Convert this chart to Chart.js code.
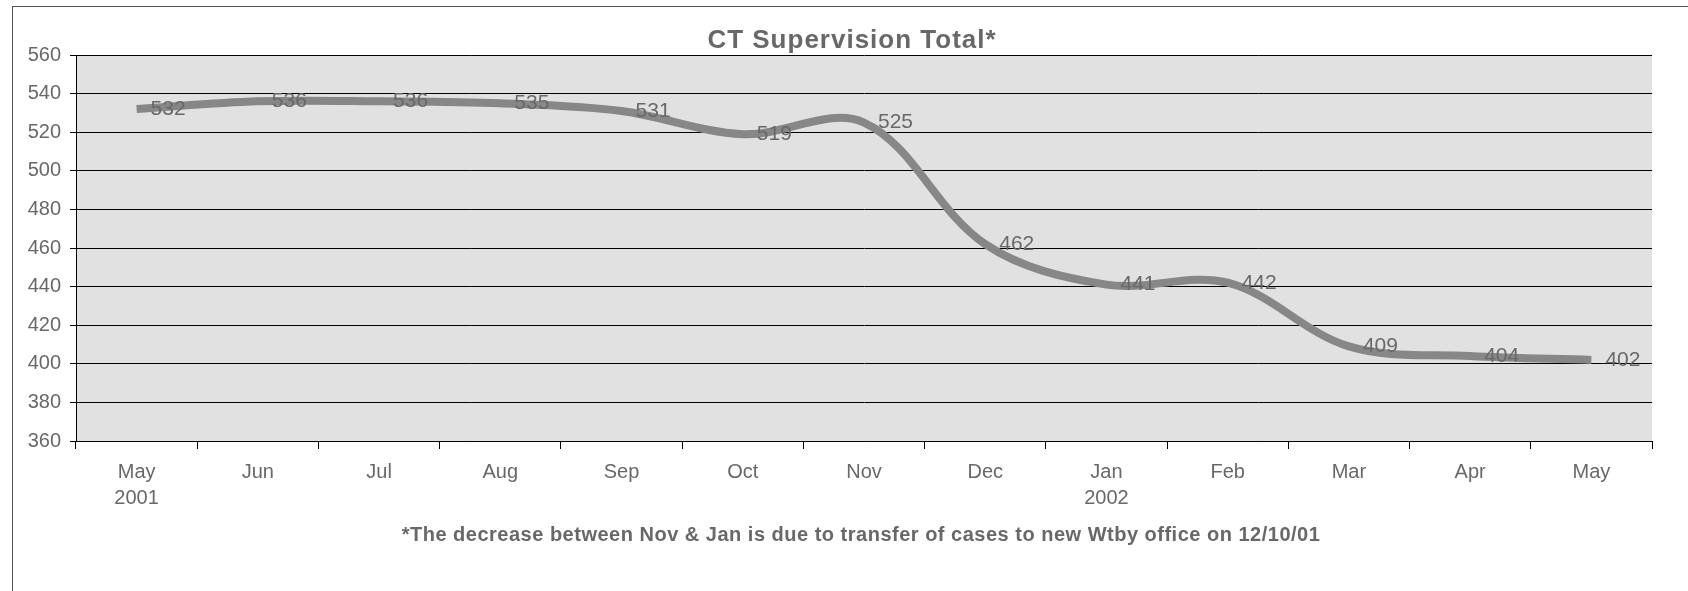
<!DOCTYPE html>
<html>
<head>
<meta charset="utf-8">
<title>CT Supervision Total</title>
<script src="https://cdn.jsdelivr.net/npm/chart.js@4.4.1/dist/chart.umd.min.js"></script>
<style>
  html, body { margin: 0; padding: 0; background: #fff; }
  #wrap { width: 1688px; height: 591px; position: relative; }
</style>
</head>
<body>
<div id="wrap"><canvas id="ct-chart"></canvas></div>
<script>
// ---- data ----
const months = [
  ['May', '2001'], 'Jun', 'Jul', 'Aug', 'Sep', 'Oct', 'Nov', 'Dec',
  ['Jan', '2002'], 'Feb', 'Mar', 'Apr', 'May'
];
const totals = [532, 536, 536, 535, 531, 519, 525, 462, 441, 442, 409, 404, 402];
const yTicks = { min: 360, max: 560, step: 20 };

const chartTitle = 'CT Supervision Total*';
const footnote = '*The decrease between Nov & Jan is due to transfer of cases to new Wtby office on 12/10/01';

const FONT = '"Liberation Sans", Arial, sans-serif';
const TEXT_GRAY = '#686868';

// plot background + outer frame
const framePlugin = {
  id: 'frame',
  beforeDraw(chart) {
    const { ctx, chartArea: a } = chart;
    ctx.save();
    ctx.fillStyle = '#fff';
    ctx.fillRect(0, 0, chart.width, chart.height);
    ctx.fillStyle = '#e1e1e1';
    ctx.fillRect(a.left, a.top, a.right - a.left, a.bottom - a.top);
    ctx.strokeStyle = '#555';
    ctx.lineWidth = 1;
    ctx.strokeRect(12.5, 6.5, chart.width + 20, chart.height + 20);
    ctx.restore();
  }
};

// value labels to the right of each point, title and footnote
const textPlugin = {
  id: 'texts',
  afterDatasetsDraw(chart) {
    const { ctx } = chart;
    const meta = chart.getDatasetMeta(0);
    ctx.save();
    ctx.fillStyle = TEXT_GRAY;
    ctx.font = '21px ' + FONT;
    ctx.textAlign = 'left';
    ctx.textBaseline = 'middle';
    meta.data.forEach((pt, i) => {
      ctx.fillText(String(totals[i]), pt.x + 14, pt.y);
    });
    ctx.restore();
  },
  afterDraw(chart) {
    const { ctx } = chart;
    ctx.save();
    ctx.fillStyle = TEXT_GRAY;
    ctx.textAlign = 'center';
    ctx.textBaseline = 'middle';
    ctx.font = 'bold 26px ' + FONT;
    ctx.letterSpacing = '1px';
    ctx.fillText(chartTitle, 852, 41);
    ctx.letterSpacing = '0.5px';
    ctx.font = 'bold 20px ' + FONT;
    ctx.fillText(footnote, 861, 535);
    ctx.restore();
  }
};

new Chart(document.getElementById('ct-chart'), {
  type: 'line',
  data: {
    labels: months,
    datasets: [{
      data: totals,
      borderColor: '#878787',
      borderWidth: 8,
      tension: 0.35,
      pointRadius: 0,
      fill: false
    }]
  },
  options: {
    responsive: true,
    maintainAspectRatio: false,
    animation: false,
    layout: { padding: { top: 55, right: 36, bottom: 70, left: 0 } },
    plugins: {
      legend: { display: false },
      tooltip: { enabled: false }
    },
    scales: {
      x: {
        offset: true,
        afterFit: s => { s.height = 80; },
        grid: { offset: true, drawOnChartArea: false, color: '#000', tickLength: 8 },
        border: { color: '#000' },
        ticks: {
          autoSkip: false, maxRotation: 0, padding: 10,
          color: TEXT_GRAY,
          font: { family: FONT, size: 20, lineHeight: 1.3 }
        }
      },
      y: {
        min: yTicks.min,
        max: yTicks.max,
        afterFit: s => { s.width = 76; },
        grid: { color: '#000', tickLength: 6 },
        border: { color: '#000' },
        ticks: {
          stepSize: yTicks.step, padding: 9,
          color: TEXT_GRAY,
          font: { family: FONT, size: 20 }
        }
      }
    }
  },
  plugins: [framePlugin, textPlugin]
});
</script>
</body>
</html>
